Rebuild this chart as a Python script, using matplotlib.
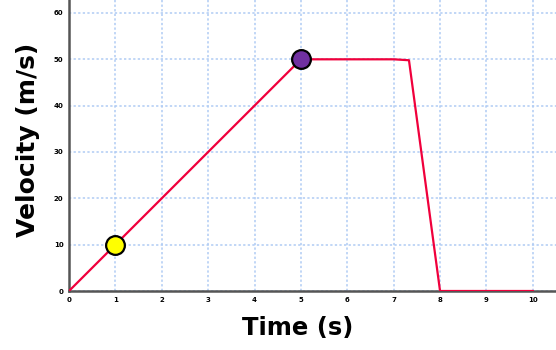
import matplotlib
matplotlib.use("Agg")
import matplotlib.pyplot as plt

time_s = [0, 5, 7, 7.33, 8, 10]
velocity = [0, 50, 50, 49.8, 0, 0]
marker_x = [1, 5]
marker_y = [10, 50]
marker_colors = ["#ffff00", "#7030a0"]
xticks = list(range(0, 11))
yticks = [0, 10, 20, 30, 40, 50, 60]

fig = plt.figure(figsize=(5.56, 3.5), dpi=100)
ax = fig.add_axes([69/556, 59/350, 1 - 69/556, 291/350])
ax.set_xlim(0, 10.5)
ax.set_ylim(0, 62.8)
ax.set_xticks(xticks)
ax.set_yticks(yticks)
ax.set_xticklabels([str(t) for t in xticks], fontsize=5, fontweight="bold")
ax.set_yticklabels([str(t) for t in yticks], fontsize=5, fontweight="bold")
ax.tick_params(length=0, pad=4)
ax.grid(True, color="#b0ccf4", linestyle=(0, (1.5, 1.5)), linewidth=1.1)
ax.set_axisbelow(True)
for s in ["top", "right"]:
    ax.spines[s].set_visible(False)
for s in ["left", "bottom"]:
    ax.spines[s].set_color("#555555")
    ax.spines[s].set_linewidth(1.8)

ax.plot(time_s, velocity, color="#f0003c", linewidth=1.6, zorder=3)
for x, y, c in zip(marker_x, marker_y, marker_colors):
    ax.plot([x], [y], "o", markersize=13.5, markerfacecolor=c,
            markeredgecolor="black", markeredgewidth=1.6, zorder=4, clip_on=False)

fig.text(298/556, 1 - 328/350, "Time (s)", fontsize=17.5, fontweight="bold",
         ha="center", va="center")
fig.text(28/556, 1 - 140/350, "Velocity (m/s)", fontsize=18, fontweight="bold",
         ha="center", va="center", rotation=90)

fig.savefig("out.png", dpi=100)
